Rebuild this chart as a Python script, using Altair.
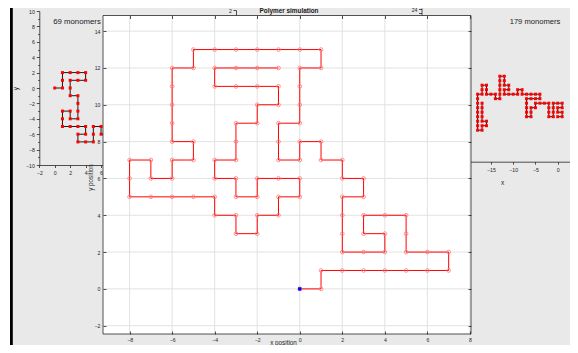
import altair as alt
import pandas as pd

# ---------------- data ----------------
# main polymer (96 monomers visible), lattice walk
main_x = [0, 1, 1, 2, 3, 4, 5, 6, 7, 7, 6, 5, 5, 5, 4, 3, 3, 4, 4, 3, 2, 2, 2, 2, 3, 3, 2, 2, 1, 1,
          0, 0, -1, -1, -1, 0, 0, 0, 0, 1, 1, 0, -1, -2, -3, -4, -5, -5, -6, -6, -6, -6, -6, -5, -5,
          -6, -6, -7, -7, -8, -8, -8, -7, -6, -5, -4, -4, -3, -3, -2, -2, -1, -1, 0, 0, -1, -2, -2,
          -3, -3, -4, -4, -3, -3, -3, -2, -2, -1, -1, -2, -3, -4, -4, -3, -2, -1]
main_y = [0, 0, 1, 1, 1, 1, 1, 1, 1, 2, 2, 2, 3, 4, 4, 4, 3, 3, 2, 2, 2, 3, 4, 5, 5, 6, 6, 7, 7, 8,
          8, 7, 7, 8, 9, 9, 10, 11, 12, 12, 13, 13, 13, 13, 13, 13, 13, 12, 12, 11, 10, 9, 8, 8, 7,
          7, 6, 6, 7, 7, 6, 5, 5, 5, 5, 5, 4, 4, 3, 3, 4, 4, 5, 5, 6, 6, 6, 5,
          5, 6, 6, 7, 7, 8, 9, 9, 10, 10, 11, 11, 11, 11, 12, 12, 12, 12]

# left inset: "69 monomers" (visible part)
left_x = [0, 1, 1, 1, 2, 3, 4, 4, 3, 2, 2, 2, 3, 3, 3, 3, 2, 2, 1, 1, 1, 2, 3, 4, 4, 3, 3, 4, 5, 5,
          5, 6, 6, 7, 7]
left_y = [0, 0, 1, 2, 2, 2, 2, 1, 1, 1, 0, -1, -1, -2, -3, -4, -4, -3, -3, -4, -5, -5, -5, -5, -6,
          -6, -7, -7, -7, -6, -5, -5, -6, -6, -5]

# right inset: "179 monomers" (visible part)
right_x = [-17, -17, -17, -17, -17, -16, -16, -17, -17, -18, -18, -18, -18, -18, -18, -18, -18,
           -18, -17, -17, -17, -16, -16, -16, -15, -14, -14, -13, -13, -13, -13, -13, -13, -12,
           -12, -12, -11, -11, -12, -12, -11, -10, -9, -9, -8, -8, -7, -6, -5, -4, -4, -5, -6,
           -7, -7, -7, -7, -7, -6, -6, -6, -5, -5, -4, -3, -2, -2, -2, -2, -1, -1, -1, -1, 0, 1,
           1, 0, 0, 1, 1, 0]
right_y = [-1, -2, -3, -4, -5, -5, -6, -6, -7, -7, -6, -5, -4, -3, -2, -1, 0, 1, 1, 2, 3, 3, 2, 1,
           1, 1, 0, 0, 1, 2, 3, 4, 5, 5, 4, 3, 3, 2, 2, 1, 1, 1, 1, 2, 2, 1, 1, 1, 1, 1, 0, 0, 0,
           0, -1, -2, -3, -4, -4, -3, -2, -2, -1, -1, -1, -1, -2, -3, -4, -4, -3, -2, -1, -1, -1,
           -2, -2, -3, -3, -4, -4]

main_xticks = [-8, -6, -4, -2, 0, 2, 4, 6, 8]
main_yticks = [-2, 0, 2, 4, 6, 8, 10, 12, 14]
left_xticks = [-2, 0, 2, 4, 6]
left_yticks = [-10, -8, -6, -4, -2, 0, 2, 4, 6, 8, 10]
left_yminor = [-9, -7, -5, -3, -1, 1, 3, 5, 7, 9]
right_xticks = [-15, -10, -5, 0]

# ---------------- layout / style ----------------
W, H = 562, 337
FONT = "Liberation Sans"
INK = "#262626"
GRID = "#e2e2e2"
BG = "#e9e9e9"

MXD, MXR = [-9.25, 8.05], [95, 463]
MYD, MYR = [-2.45, 14.85], [326, 7.5]
LXD, LXR = [-2, 8], [31.3, 108.5]
LYD, LYR = [-10, 10], [157, 3.0]
RXD, RXR = [-20, 5], [460.7, 571.95]
RYD, RYR = [-14, 14], [153.7, 27.7]


def sc(d, r):
    return alt.Scale(domain=d, range=r, nice=False, zero=False)


def ax(**kw):
    base = dict(grid=False, labelFont=FONT, labelFontSize=5.2, labelColor=INK,
                tickColor=INK, tickWidth=0.8, domainColor=INK, domainWidth=0.8,
                labelFlush=False, labelOverlap=False, titleFont=FONT,
                titleFontWeight="normal", titleColor=INK, titleFontSize=6.5)
    base.update(kw)
    return alt.Axis(**base)


one = pd.DataFrame({"a": [0]})
main_df = pd.DataFrame({"x": main_x, "y": main_y, "i": list(range(len(main_x)))})
left_df = pd.DataFrame({"x": left_x, "y": left_y, "i": list(range(len(left_x)))})
right_df = pd.DataFrame({"x": right_x, "y": right_y, "i": list(range(len(right_x)))})
start_df = main_df.iloc[:1]
frame_df = pd.DataFrame({"x0": [MXD[0]], "x1": [MXD[1]], "y0": [MYD[0]], "y1": [MYD[1]]})
gx_df = pd.DataFrame({"xt": main_xticks, "y0": MYD[0], "y1": MYD[1]})
gy_df = pd.DataFrame({"yt": main_yticks, "x0": MXD[0], "x1": MXD[1]})

layers = []

# left white strip and black bar
layers.append(alt.Chart(one).mark_rect(color="white").encode(
    x=alt.value(0), x2=alt.value(2), y=alt.value(0), y2=alt.value(H)))
layers.append(alt.Chart(one).mark_rect(color="black").encode(
    x=alt.value(2), x2=alt.value(4.8), y=alt.value(0), y2=alt.value(H)))

# peeking axes at the top ("2" and "24")
layers.append(alt.Chart(pd.DataFrame({"v": [2]})).mark_point(opacity=0).encode(
    y=alt.Y("v:Q", scale=sc([2, 0], [2, 50]),
            axis=ax(orient="left", offset=-228, values=[2], tickSize=3, labelPadding=1.5,
                    title=None))))
layers.append(alt.Chart(pd.DataFrame({"v": [24]})).mark_point(opacity=0).encode(
    y=alt.Y("v:Q", scale=sc([24.5, 0], [0, 49]),
            axis=ax(orient="left", offset=-413.5, values=[24, 22], tickSize=3, labelPadding=1.5,
                    labelExpr="datum.value == 24 ? '24' : ''", title=None))))

# ---- left inset ----
layers.append(alt.Chart(left_df).mark_line(color="#1a1a1a", strokeWidth=1).encode(
    x=alt.X("x:Q", scale=sc(LXD, LXR),
            axis=ax(orient="bottom", offset=-(H - 157), values=left_xticks, tickSize=2.5,
                    labelPadding=3, title=None)),
    y=alt.Y("y:Q", scale=sc(LYD, LYR),
            axis=ax(orient="left", offset=-31.3, values=left_yticks, tickSize=3,
                    labelPadding=2, title="y", titleX=-24.3, titleY=80, titleAngle=270,
                    titleBaseline="middle", titleAlign="center")),
    order="i:Q"))
layers.append(alt.Chart(left_df).mark_point(shape="square", filled=True, size=9, color="#ff0000",
                                            opacity=1).encode(
    x=alt.X("x:Q", scale=sc(LXD, LXR), axis=None),
    y=alt.Y("y:Q", scale=sc(LYD, LYR),
            axis=ax(orient="left", offset=-31.3, values=left_yminor, tickSize=1.6,
                    labels=False, domain=False, title=None))))
layers.append(alt.Chart(one).mark_text(text="69 monomers", font=FONT, fontSize=7.8, color="#1a1a1a",
                                       align="center", baseline="middle").encode(
    x=alt.value(69), y=alt.value(13.5)))

# ---- right inset ----
layers.append(alt.Chart(right_df).mark_line(color="#1a1a1a", strokeWidth=1).encode(
    x=alt.X("x:Q", scale=sc(RXD, RXR),
            axis=ax(orient="bottom", offset=-(H - 153.7), values=right_xticks, tickSize=2.5,
                    labelPadding=3.5, title="x", titleX=494, titleY=20.3,
                    titleBaseline="middle", titleAlign="center")),
    y=alt.Y("y:Q", scale=sc(RYD, RYR), axis=None),
    order="i:Q"))
layers.append(alt.Chart(right_df).mark_point(shape="square", filled=True, size=9, color="#ff0000",
                                             opacity=1).encode(
    x=alt.X("x:Q", scale=sc(RXD, RXR), axis=None),
    y=alt.Y("y:Q", scale=sc(RYD, RYR), axis=None)))
layers.append(alt.Chart(one).mark_text(text="179 monomers", font=FONT, fontSize=7.6, color="#1a1a1a",
                                       align="center", baseline="middle").encode(
    x=alt.value(527), y=alt.value(14)))

# ---- main axes ----
layers.append(alt.Chart(frame_df).mark_rect(color="white").encode(
    x=alt.X("x0:Q", scale=sc(MXD, MXR),
            axis=ax(orient="top", offset=-10.5, values=main_xticks, tickSize=3, labels=False,
                    domain=False, title=None, zindex=1)),
    x2="x1:Q",
    y=alt.Y("y0:Q", scale=sc(MYD, MYR),
            axis=ax(orient="right", offset=-(W - 460), values=main_yticks, tickSize=3,
                    labels=False, domain=False, title=None, zindex=1)),
    y2="y1:Q"))
layers.append(alt.Chart(gx_df).mark_rule(color=GRID, strokeWidth=1).encode(
    x=alt.X("xt:Q", scale=sc(MXD, MXR),
            axis=ax(orient="bottom", offset=-(H - 323), values=main_xticks, tickSize=3,
                    domain=False, labelPadding=3.5, title="x position", titleX=275,
                    titleY=13.5, titleBaseline="alphabetic", titleAlign="center",
                    titleFontSize=6.3, zindex=1)),
    y=alt.Y("y0:Q", scale=sc(MYD, MYR), axis=None),
    y2="y1:Q"))
layers.append(alt.Chart(gy_df).mark_rule(color=GRID, strokeWidth=1).encode(
    y=alt.Y("yt:Q", scale=sc(MYD, MYR),
            axis=ax(orient="left", offset=-98, values=main_yticks, tickSize=3, domain=False,
                    labelPadding=3, title="y position", titleX=-16, titleY=169,
                    titleAngle=270, titleBaseline="middle", titleAlign="center",
                    titleFontSize=6.3, zindex=1)),
    x=alt.X("x0:Q", scale=sc(MXD, MXR), axis=None),
    x2="x1:Q"))
layers.append(alt.Chart(main_df).mark_line(color="#ff0000", strokeWidth=1).encode(
    x=alt.X("x:Q", scale=sc(MXD, MXR), axis=None),
    y=alt.Y("y:Q", scale=sc(MYD, MYR), axis=None),
    order="i:Q"))
layers.append(alt.Chart(main_df).mark_point(shape="circle", filled=False, size=14, color="#ff7a7a",
                                            strokeWidth=0.8, opacity=1).encode(
    x=alt.X("x:Q", scale=sc(MXD, MXR), axis=None),
    y=alt.Y("y:Q", scale=sc(MYD, MYR), axis=None)))
layers.append(alt.Chart(start_df).mark_point(shape="square", filled=True, size=11, color="#0000ff",
                                             opacity=1).encode(
    x=alt.X("x:Q", scale=sc(MXD, MXR), axis=None),
    y=alt.Y("y:Q", scale=sc(MYD, MYR), axis=None)))
layers.append(alt.Chart(frame_df).mark_rect(fillOpacity=0, stroke=INK, strokeWidth=0.8).encode(
    x=alt.X("x0:Q", scale=sc(MXD, MXR), axis=None),
    x2="x1:Q",
    y=alt.Y("y0:Q", scale=sc(MYD, MYR), axis=None),
    y2="y1:Q"))

layers.append(alt.Chart(one).mark_text(text="Polymer simulation", font=FONT, fontSize=6.4,
                                       fontWeight="bold", color="#1a1a1a", align="center",
                                       baseline="middle").encode(
    x=alt.value(281), y=alt.value(2.8)))

chart = alt.layer(*layers).resolve_scale(x="independent", y="independent").properties(
    width=W, height=H, background=BG, padding=0,
    autosize=alt.AutoSizeParams(type="none"),
).configure_view(stroke=None)

chart.save("out.html", embed_options={"renderer": "svg", "actions": False})
